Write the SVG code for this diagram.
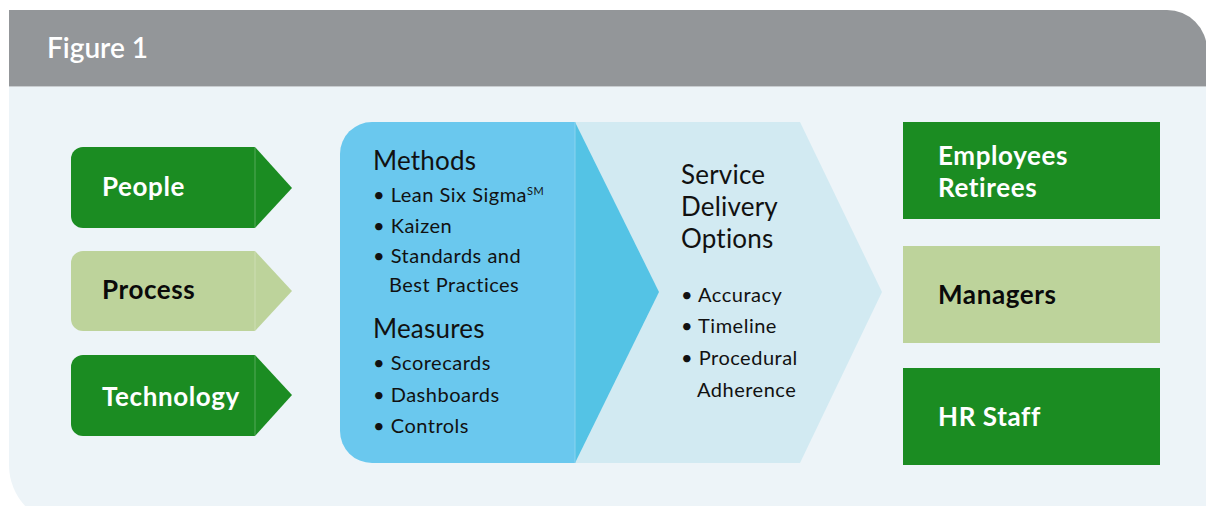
<svg xmlns="http://www.w3.org/2000/svg" width="1206" height="506" viewBox="0 0 1206 506">
<style>
.b{font-family:Lato,"Noto Sans",sans-serif;font-weight:700;font-size:26px;letter-spacing:0.6px}
.w{fill:#ffffff}
.k{fill:#0a0a0a}
.t{font-family:Lato,"Noto Sans",sans-serif;font-weight:400;fill:#111111}
.h{font-size:26px;letter-spacing:0.2px}
.i{font-size:20px;letter-spacing:0.5px}
.dg{fill:#1B8C22}
.lg{fill:#BDD39B}
.sep{stroke:#ffffff;stroke-opacity:0.25;stroke-width:1}
</style>
<rect width="1206" height="506" fill="#ffffff"/>
<g id="frame">
<path d="M9,86 H1206 V525 H69 A60,60 0 0 1 9,465 Z" fill="#EDF4F8"/>
<path d="M9,10 H1167 A40,40 0 0 1 1207,50 V86 H9 Z" fill="#939699"/>
<line x1="9" y1="86.5" x2="1206" y2="86.5" stroke="#C9CDD0" stroke-width="1"/>
<text x="47" y="58" class="w" style="font-family:Lato,'Noto Sans',sans-serif;font-weight:600;font-size:28px">Figure 1</text>
</g>
<g id="people">
<path d="M83,147 H255 L292,188 L255,228 H83 A12,12 0 0 1 71,216 V159 A12,12 0 0 1 83,147 Z" class="dg"/>
<line x1="255" y1="147" x2="255" y2="228" class="sep"/>
<text x="102" y="196" class="b w">People</text>
</g>
<g id="process">
<path d="M83,251 H255 L292,291 L255,331 H83 A12,12 0 0 1 71,319 V263 A12,12 0 0 1 83,251 Z" class="lg"/>
<line x1="255" y1="251" x2="255" y2="331" class="sep"/>
<text x="102" y="299" class="b k">Process</text>
</g>
<g id="technology">
<path d="M83,355 H255 L292,395 L255,436 H83 A12,12 0 0 1 71,424 V367 A12,12 0 0 1 83,355 Z" class="dg"/>
<line x1="255" y1="355" x2="255" y2="436" class="sep"/>
<text x="102" y="406" class="b w">Technology</text>
</g>
<g id="service-delivery">
<path d="M575,122 H800 L882,292 L800,463 H575 Z" fill="#D2EAF2"/>
<text class="t h"><tspan x="681" y="184">Service</tspan><tspan x="681" y="216">Delivery</tspan><tspan x="681" y="248">Options</tspan></text>
<text class="t i"><tspan x="681" y="302">• Accuracy</tspan><tspan x="681" y="333">• Timeline</tspan><tspan x="681" y="365">• Procedural</tspan><tspan x="697" y="397">Adherence</tspan></text>
</g>
<g id="methods-measures">
<path d="M372,122 H575 V463 H372 A32,32 0 0 1 340,431 V154 A32,32 0 0 1 372,122 Z" fill="#6AC8EE"/>
<path d="M575,122 L659,292 L575,463 Z" fill="#54C3E5"/>
<line x1="575" y1="122" x2="575" y2="463" stroke="#8AD4F0" stroke-width="1"/>
<text x="373" y="170" class="t h">Methods</text>
<text class="t i"><tspan x="373" y="202">• Lean Six Sigma<tspan font-size="11" dy="-7">SM</tspan></tspan><tspan x="373" y="233">• Kaizen</tspan><tspan x="373" y="263">• Standards and</tspan><tspan x="389" y="292">Best Practices</tspan></text>
<text x="373" y="338" class="t h">Measures</text>
<text class="t i"><tspan x="373" y="370">• Scorecards</tspan><tspan x="373" y="402">• Dashboards</tspan><tspan x="373" y="433">• Controls</tspan></text>
</g>
<g id="employees-retirees">
<rect x="903" y="122" width="257" height="97" class="dg"/>
<text class="b w"><tspan x="938" y="165">Employees</tspan><tspan x="938" y="197">Retirees</tspan></text>
</g>
<g id="managers">
<rect x="903" y="246" width="257" height="97" class="lg"/>
<text x="938" y="304" class="b k">Managers</text>
</g>
<g id="hr-staff">
<rect x="903" y="368" width="257" height="97" class="dg"/>
<text x="938" y="426" class="b w">HR Staff</text>
</g>
<g id="connectors"></g>
</svg>
